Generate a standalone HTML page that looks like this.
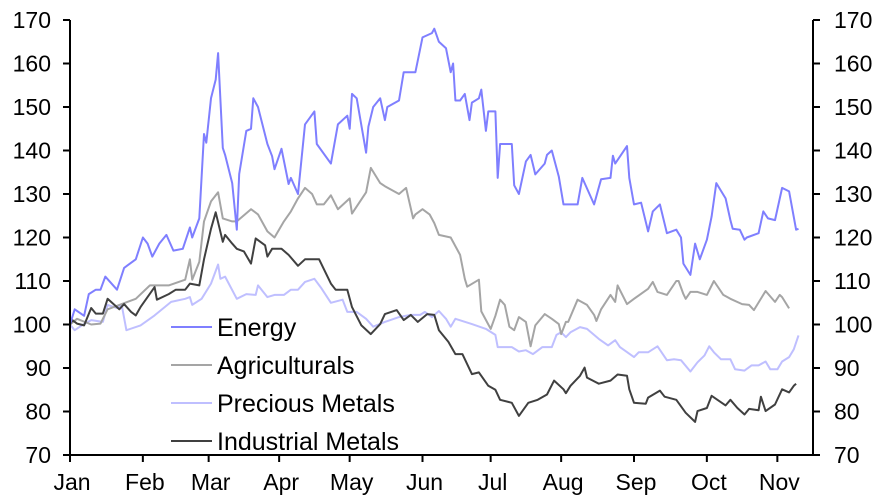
<!DOCTYPE html>
<html><head><meta charset="utf-8"><style>
html,body{margin:0;padding:0;background:#fff;}
svg{display:block;font-family:"Liberation Sans",Arial,sans-serif;}
</style></head><body>
<svg id="chart" width="886" height="498" viewBox="0 0 886 498"></svg>
<script>
const monthLabels = ["Jan","Feb","Mar","Apr","May","Jun","Jul","Aug","Sep","Oct","Nov"];
const monthDays = [0,31,59,89,119,150,179,209,240,271,301];
const yTicks = [70,80,90,100,110,120,130,140,150,160,170];
const seriesNames = ["Energy","Agriculturals","Precious Metals","Industrial Metals"];
const energyDays = [0,2,6,8,11,13,15,20,23,28,31,33,35,38,41,44,48,51,52,55,57,58,60,62,63,65,66,69,71,72,75,77,78,80,84,86,87,90,93,94,97,100,104,105,111,114,118,119,120,122,126,127,129,132,134,135,140,142,147,150,154,155,157,160,162,163,164,166,168,170,171,174,175,177,178,181,182,183,188,189,191,194,196,198,202,203,205,208,210,216,218,223,226,230,231,232,237,238,240,243,246,248,251,254,258,260,261,264,266,268,271,273,275,279,281,282,285,287,288,293,295,297,300,303,306,309,310];
const energyVals = [100,103.5,102,107,108,108,111,108,113,115,120,118.6,115.6,118.6,120.6,117,117.4,122.3,120,124.4,143.8,141.8,152,156.3,162.4,140.6,139,132.5,121.8,134.6,144.5,145,152,150,141.5,138.7,135.7,140.4,132.3,133.7,130,146,149,141.5,137,146,148,145,153,152,139.5,145.5,150,152,147,150,151.5,158,158,166,167,168,165,163.5,158,160,151.5,151.5,153,147,151,152,154,144.5,149,149,133.7,141.5,141.5,132,130,137.5,139,134.5,137,139,140,134,127.6,127.6,133.7,127.6,133.4,133.7,138.8,137,141,133.7,127.6,128,121.4,126,127.6,121,121.8,120,114,111.4,118.6,115,119.5,124.8,132.5,129,124,122,121.8,119.5,120,121,126,124.4,124,131.4,130.6,121.8,122];
const agriDays = [0,3,9,13,16,22,28,34,42,49,51,52,55,57,60,63,65,69,71,77,80,84,87,91,94,97,100,103,105,108,111,114,119,120,126,128,132,134,140,143,146,147,150,153,155,157,162,166,168,169,174,175,179,181,183,185,187,189,191,194,196,198,202,205,208,209,211,212,216,220,223,224,226,230,232,233,237,240,246,248,250,254,258,259,261,262,264,267,271,274,278,281,286,289,291,296,300,302,303,306,309];
const agriVals = [100,101.3,100,100.2,103.5,104.7,105.9,109,109,110.3,115,110.3,114.4,123.7,128.3,130.4,124.4,123.7,123.7,126.5,125.3,121.4,120,123.7,126,129,131.4,130,127.6,127.6,129.7,126.5,129,125.5,130.4,136,132.5,131.8,130,131.4,124.4,125.3,126.5,125.3,123.3,120.6,120,116,110.5,108.7,110.3,103,99,102,105.7,104.5,99.5,98.7,101.7,100.6,95,99.8,102.4,101.3,100.1,97.8,100.6,100.6,105.7,104.5,102.2,100.8,103.5,106.8,105.2,109,104.7,105.9,108.2,109.8,107.5,106.8,110,110,107,105.9,107.5,107.5,106.8,110,106.8,105.9,104.7,104.5,103.3,107.7,105.2,106.8,106.3,103.7];
const preciousDays = [0,2,5,9,14,16,20,22,24,30,36,43,49,51,52,56,60,63,64,66,71,75,79,80,84,87,91,94,97,100,104,107,111,116,118,122,126,129,134,140,145,149,151,154,157,160,162,164,171,177,181,182,188,191,194,197,201,205,207,209,211,213,217,220,225,229,232,234,240,242,246,250,254,257,260,264,267,270,272,274,277,281,283,287,290,293,296,298,301,303,306,308,310];
const preciousVals = [100,98.7,99.8,101,100.6,104.5,103.8,104.5,98.7,99.8,102.1,105.2,105.9,106.3,104.5,105.9,109.4,113.8,110.5,111,105.9,107,106.8,109,106.3,106.8,106.8,108,108,109.8,110.5,108.3,105,105.7,102.9,102.9,101.3,99.5,100.6,101.7,102.2,102.2,102.9,101.7,103.1,101.3,99.5,101.3,100.1,99,97.6,94.8,94.8,93.8,94.1,93.2,94.8,94.8,97.6,98.2,97.1,98.2,99.4,99,96.7,95.2,96.4,94.8,92.5,93.6,93.6,95,91.8,92,91.8,89.2,91.3,92.9,95,93.6,92,92,89.7,89.4,90.6,90.6,91.5,89.7,89.7,91.5,92.5,94.3,97.5];
const industrialDays = [0,1,3,6,9,11,14,16,21,23,26,28,30,36,37,42,45,49,51,55,57,60,62,65,66,69,71,74,77,79,83,84,86,90,93,97,100,106,111,113,118,120,124,128,132,134,139,142,145,148,152,155,157,161,164,167,171,174,178,181,183,188,191,195,199,203,206,210,211,213,217,219,220,225,230,233,237,238,240,245,246,251,253,258,262,266,267,271,273,279,281,284,287,289,293,294,296,300,303,306,308,309];
const industrialVals = [100,101,100.2,99.8,103.8,102.5,102.5,105.9,103.5,104.7,102.9,102.1,104,108.6,105.7,107,108,108,109.4,109,115,122,125.8,119,120.6,118.6,117.4,116.8,114,119.8,118.2,115.6,117.4,117.4,116,113.5,115,115,109.4,108,108,104,99.8,97.8,100.1,102.4,103.3,101,102.2,100.6,102.4,102.2,98.7,96,93.2,93.2,88.6,89,85.9,85,82.7,82,79,82,82.7,83.9,87.1,85.1,84.2,85.9,88.2,90.1,87.8,86.4,87.1,88.5,88.2,85.1,82,81.8,83.2,84.8,83.4,82.7,79.7,77.6,80.1,80.8,83.6,81.4,82.7,80.8,79.3,80.6,80.3,83.4,80.1,81.6,85.1,84.4,85.9,86.4];

const NS="http://www.w3.org/2000/svg";
const svg=document.getElementById('chart');
const X0=70,X1=813,Y0=455,Y1=20;
const xs=d=>X0+d*2.35;
const ys=v=>Y0-(v-70)*(Y0-Y1)/100;
function mk(tag,attrs,parent){const e=document.createElementNS(NS,tag);for(const k in attrs)e.setAttribute(k,attrs[k]);(parent||svg).appendChild(e);return e;}

const colors=["#7f7fff","#a5a5a5","#bfbfff","#404040"];
const allDays=[energyDays,agriDays,preciousDays,industrialDays];
const allVals=[energyVals,agriVals,preciousVals,industrialVals];
const order=[2,1,3,0];
order.forEach(i=>{
  const d=allDays[i].map((t,j)=>(j?'L':'M')+xs(t).toFixed(1)+' '+ys(allVals[i][j]).toFixed(1)).join(' ');
  const p=mk('path',{d:d,fill:'none',stroke:colors[i],'stroke-width':2,'stroke-linejoin':'round'});
  
  
});

const ax=mk('path',{d:`M${X0} ${Y1} L${X0} ${Y0} L${X1} ${Y0} M${X1} ${Y1} L${X1} ${Y0}`,stroke:'#000','stroke-width':2,fill:'none'});


yTicks.forEach(v=>{
  const y=ys(v);
  mk('line',{x1:X0-7,x2:X0,y1:y,y2:y,stroke:'#000','stroke-width':2});
  mk('line',{x1:X1,x2:X1+7,y1:y,y2:y,stroke:'#000','stroke-width':2});
  const t=mk('text',{x:51,y:y+8,'text-anchor':'end','font-size':23,fill:'#000'});t.textContent=v;
  
  
  const t2=mk('text',{x:834,y:y+8,'text-anchor':'start','font-size':23,fill:'#000'});t2.textContent=v;
  
  
});
monthDays.forEach((d,i)=>{
  const x=xs(d);
  mk('line',{x1:x,x2:x,y1:Y0,y2:Y0+7,stroke:'#000','stroke-width':2});
  const t=mk('text',{x:x+2,y:490,'text-anchor':'middle','font-size':23,fill:'#000'});t.textContent=monthLabels[i];
  
  
});

const legY=[327,365,403,441];
seriesNames.forEach((n,i)=>{
  const g=mk('g',{});
  
  
  mk('line',{x1:171,x2:212,y1:legY[i],y2:legY[i],stroke:colors[i],'stroke-width':2},g);
  const t=mk('text',{x:217,y:legY[i]+9,'font-size':25,fill:'#000'},g);t.textContent=n;
});
</script>
</body></html>
